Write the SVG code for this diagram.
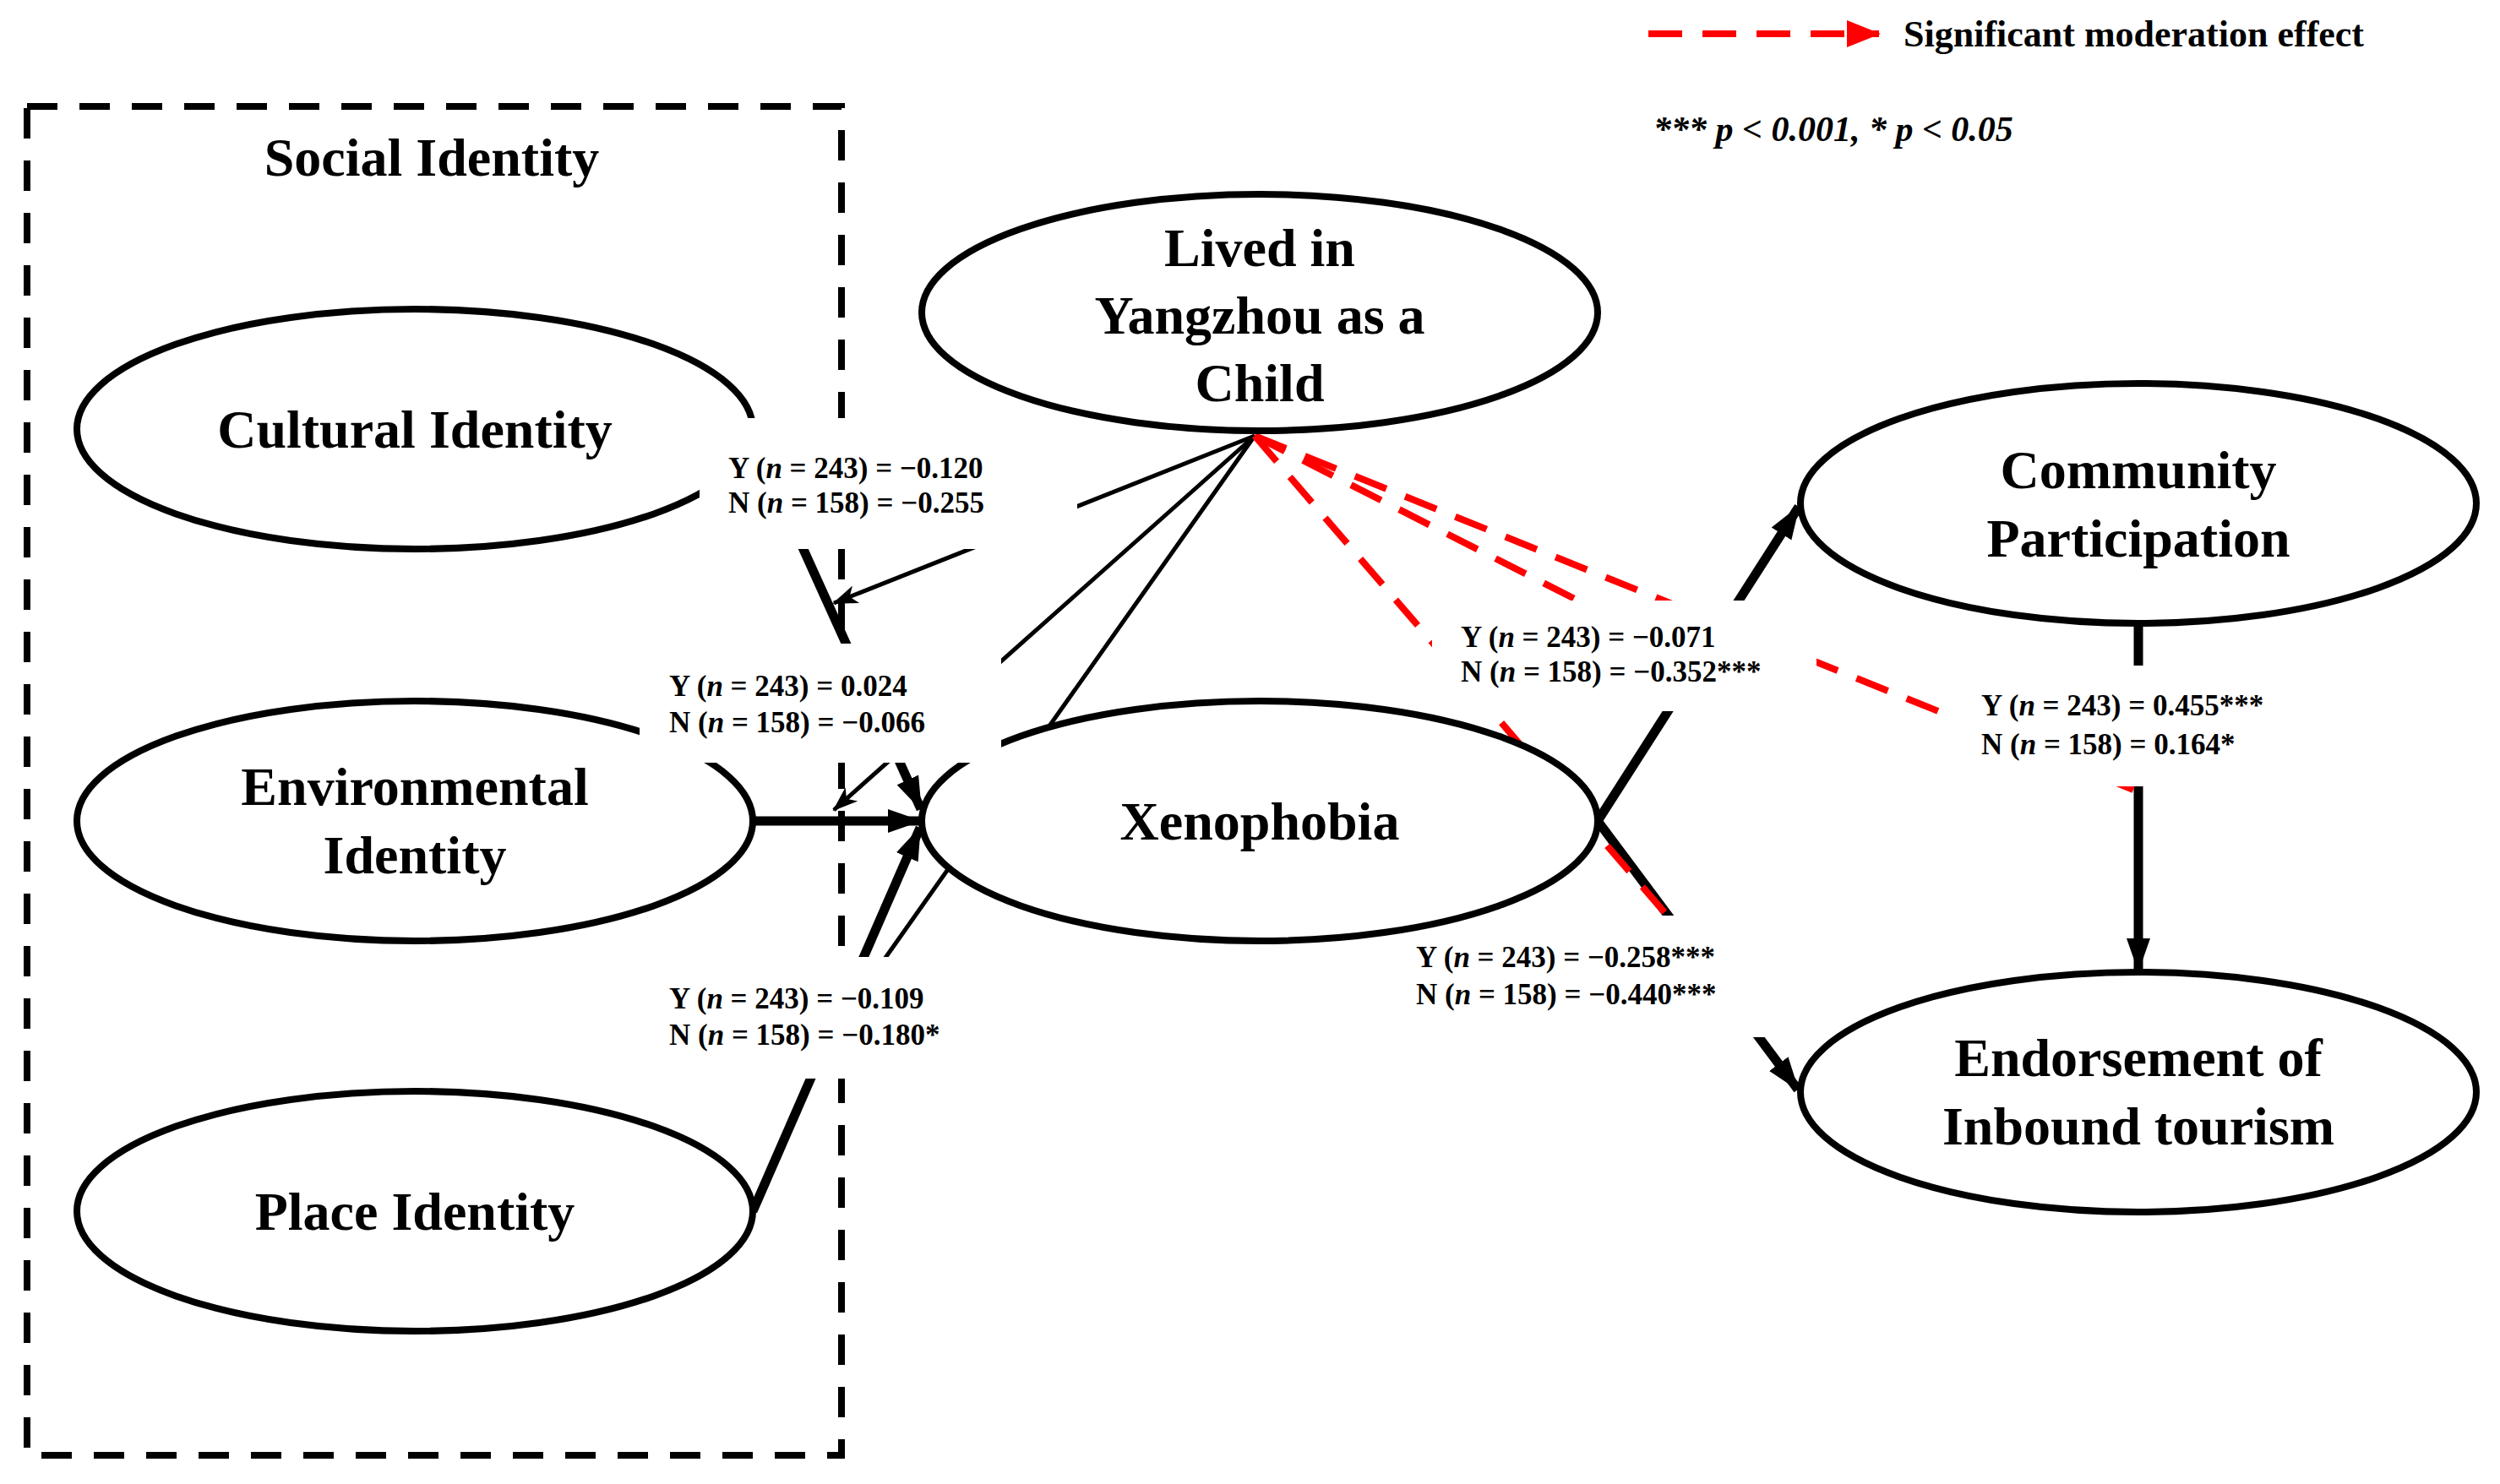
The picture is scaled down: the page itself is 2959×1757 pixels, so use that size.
<svg xmlns="http://www.w3.org/2000/svg" width="2959" height="1757" viewBox="0 0 2959 1757">
<style>
.node{fill:#fff;stroke:#000;stroke-width:8}
.nt{font-family:"Liberation Serif",serif;font-weight:bold;font-size:64px;text-anchor:middle;fill:#000}
.lb{font-family:"Liberation Serif",serif;font-weight:bold;font-size:35px;fill:#000}
.thick{stroke:#000;stroke-width:11;fill:none}
.thin{stroke:#000;stroke-width:5;fill:none}
.red{stroke:#f00;stroke-width:8;stroke-dasharray:40 24;fill:none}
.box{fill:#fff}
</style>
<defs>
<marker id="ak" markerUnits="userSpaceOnUse" markerWidth="40" markerHeight="40" viewBox="0 0 40 40" refX="38" refY="20" orient="auto"><path d="M0,6 L40,20 L0,34 Z" fill="#000"/></marker>
<marker id="as" markerUnits="userSpaceOnUse" markerWidth="30" markerHeight="30" viewBox="0 0 30 30" refX="28" refY="15" orient="auto"><path d="M0,4 L30,15 L0,26 L8,15 Z" fill="#000"/></marker>
<marker id="ar" markerUnits="userSpaceOnUse" markerWidth="40" markerHeight="40" viewBox="0 0 40 40" refX="38" refY="20" orient="auto"><path d="M0,4 L40,20 L0,36 Z" fill="#f00"/></marker>
</defs>
<rect x="32" y="126" width="964" height="1597" fill="none" stroke="#000" stroke-width="8" stroke-dasharray="36 26"/>
<text x="511" y="208" class="nt" font-size="76">Social Identity</text>
<g id="connectors">
<line class="thick" x1="901" y1="540" x2="1090" y2="958" marker-end="url(#ak)"/>
<line class="thick" x1="891" y1="972" x2="1089" y2="972" marker-end="url(#ak)"/>
<line class="thick" x1="891" y1="1434" x2="1089" y2="980" marker-end="url(#ak)"/>
<line class="thin" x1="1485" y1="516" x2="987" y2="714" marker-end="url(#as)"/>
<line class="thin" x1="1485" y1="516" x2="987" y2="959" marker-end="url(#as)"/>
<line class="thin" x1="1485" y1="516" x2="980" y2="1230" marker-end="url(#as)"/>
<line class="thick" x1="1891" y1="972" x2="2129" y2="600" marker-end="url(#ak)"/>
<line class="thick" x1="1891" y1="972" x2="2128" y2="1290" marker-end="url(#ak)"/>
<line class="thick" x1="2531" y1="740" x2="2531" y2="1149" marker-end="url(#ak)"/>
<line class="red" x1="1485" y1="516" x2="2525" y2="935"/>
<line class="red" x1="1485" y1="516" x2="2011" y2="784"/>
<line class="red" x1="1485" y1="516" x2="2000" y2="1115"/>
<line class="red" x1="1951" y1="40" x2="2224" y2="40" stroke-dasharray="34 26" marker-end="url(#ar)"/>
</g>
<g id="cultural"><ellipse class="node" cx="491" cy="508" rx="400" ry="142"/><text class="nt" x="491" y="530">Cultural Identity</text></g>
<g id="environmental"><ellipse class="node" cx="491" cy="972" rx="400" ry="142"/><text class="nt" x="491" y="953">Environmental</text><text class="nt" x="491" y="1034">Identity</text></g>
<g id="place"><ellipse class="node" cx="491" cy="1434" rx="400" ry="142"/><text class="nt" x="491" y="1456">Place Identity</text></g>
<g id="lived"><ellipse class="node" cx="1491" cy="370" rx="400" ry="140"/><text class="nt" x="1491" y="315">Lived in</text><text class="nt" x="1491" y="395">Yangzhou as a</text><text class="nt" x="1491" y="475">Child</text></g>
<g id="xenophobia"><ellipse class="node" cx="1491" cy="972" rx="400" ry="142"/><text class="nt" x="1491" y="994">Xenophobia</text></g>
<g id="community"><ellipse class="node" cx="2531" cy="596" rx="400" ry="142"/><text class="nt" x="2531" y="578">Community</text><text class="nt" x="2531" y="659">Participation</text></g>
<g id="endorsement"><ellipse class="node" cx="2531" cy="1293" rx="400" ry="142"/><text class="nt" x="2531" y="1274">Endorsement of</text><text class="nt" x="2531" y="1355">Inbound tourism</text></g>
<g id="labels">
<rect class="box" x="828" y="495" width="447" height="155"/>
<text class="lb" x="862" y="566">Y (<tspan font-style="italic">n</tspan> = 243) = −0.120</text>
<text class="lb" x="862" y="607">N (<tspan font-style="italic">n</tspan> = 158) = −0.255</text>
<rect class="box" x="757" y="762" width="428" height="141"/>
<text class="lb" x="792" y="824">Y (<tspan font-style="italic">n</tspan> = 243) = 0.024</text>
<text class="lb" x="792" y="867">N (<tspan font-style="italic">n</tspan> = 158) = −0.066</text>
<rect class="box" x="757" y="1133" width="428" height="144"/>
<text class="lb" x="792" y="1194">Y (<tspan font-style="italic">n</tspan> = 243) = −0.109</text>
<text class="lb" x="792" y="1237">N (<tspan font-style="italic">n</tspan> = 158) = −0.180*</text>
<rect class="box" x="1695" y="711" width="455" height="131"/>
<text class="lb" x="1729" y="766">Y (<tspan font-style="italic">n</tspan> = 243) = −0.071</text>
<text class="lb" x="1729" y="807">N (<tspan font-style="italic">n</tspan> = 158) = −0.352***</text>
<rect class="box" x="2311" y="788" width="409" height="143"/>
<text class="lb" x="2345" y="847">Y (<tspan font-style="italic">n</tspan> = 243) = 0.455***</text>
<text class="lb" x="2345" y="893">N (<tspan font-style="italic">n</tspan> = 158) = 0.164*</text>
<rect class="box" x="1640" y="1118" width="450" height="110"/>
<rect class="box" x="1955" y="1084" width="135" height="144"/>
<text class="lb" x="1676" y="1145">Y (<tspan font-style="italic">n</tspan> = 243) = −0.258***</text>
<text class="lb" x="1676" y="1189">N (<tspan font-style="italic">n</tspan> = 158) = −0.440***</text>
</g>
<g id="legend">
<text x="2253" y="55" font-family="Liberation Serif,serif" font-weight="bold" font-size="44">Significant moderation effect</text>
<text x="1957" y="167" font-family="Liberation Serif,serif" font-weight="bold" font-style="italic" font-size="42">*** p &lt; 0.001, * p &lt; 0.05</text>
</g>
</svg>
